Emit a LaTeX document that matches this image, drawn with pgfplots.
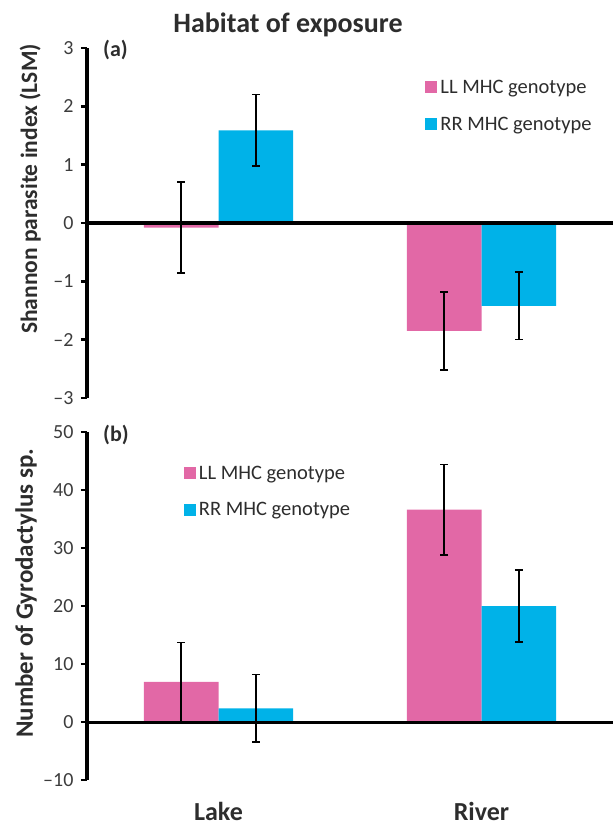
\documentclass[border=0pt]{standalone}
\usepackage{fontspec}
\setmainfont{Carlito}
\usepackage{pgfplots}
\pgfplotsset{compat=1.18}
\definecolor{llpink}{RGB}{226,104,166}
\definecolor{rrblue}{RGB}{0,178,232}
\definecolor{txt}{RGB}{45,45,45}
\definecolor{ticktxt}{RGB}{60,60,60}
\pgfplotsset{
  panel/.style={
    scale only axis, width=526pt, clip=false,
    xmin=0.5, xmax=2.5,
    axis y line*=left, axis x line*=bottom,
    x axis line style={draw=none},
    y axis line style={line width=4pt, black},
    xtick style={draw=none},
    ytick style={line width=2.5pt, black},
    tick align=outside, major tick length=6pt,
    /pgf/number format/assume math mode=true,
    yticklabel style={font=\fontsize{20}{24}\selectfont, text=ticktxt, xshift=-4pt},
    ybar, bar width=0.284,
    legend image code/.code={\fill[##1] (0pt,-6pt) rectangle (12pt,6pt);},
    legend style={draw=none, fill=none, font=\fontsize{20.5}{24}\selectfont, text=txt, row sep=16pt, inner sep=0pt, nodes={inner sep=3pt}},
    legend cell align=left,
    error bars/y dir=both, error bars/y explicit,
    error bars/error bar style={line width=1.5pt, black},
    error bars/error mark options={rotate=90, mark size=4pt, line width=1.5pt, black},
  }
}
\begin{document}
\begin{tikzpicture}
\useasboundingbox (0pt,0pt) rectangle (613pt,-828pt);
\node[font=\bfseries\fontsize{28}{32}\selectfont, text=txt] at (288pt,-25pt) {Habitat of exposure};
% panel (a)
\begin{axis}[panel, at={(87pt,-398pt)}, anchor=south west, height=350pt,
  ymin=-3, ymax=3, ytick={-3,-2,...,3},
  yticklabels={\textendash3,\textendash2,\textendash1,0,1,2,3},
  xtick=\empty,
  ylabel={Shannon parasite index (LSM)},
  ylabel style={font=\bfseries\fontsize{23.5}{27}\selectfont, text=txt, at={(axis description cs:-0.108,0.597)}, anchor=center},
  legend style={at={(axis description cs:0.643,0.918)}, anchor=north west}]
\addplot[fill=llpink, draw=none, bar shift=-0.142] coordinates {(1,-0.08) +- (0,0.78) (2,-1.85) +- (0,0.67)};
\addlegendentry{LL MHC genotype}
\addplot[fill=rrblue, draw=none, bar shift=0.142] coordinates {(1,1.59) +- (0,0.61) (2,-1.42) +- (0,0.58)};
\addlegendentry{RR MHC genotype}
\draw[line width=4pt, black] (axis cs:0.5,0) -- (axis cs:2.5,0);
\node[font=\bfseries\fontsize{22}{26}\selectfont, text=txt, anchor=west] at (axis description cs:0.024,0.993) {(a)};
\end{axis}
% panel (b)
\begin{axis}[panel, at={(87pt,-780pt)}, anchor=south west, height=348pt,
  ymin=-10, ymax=50, ytick={-10,0,...,50},
  yticklabels={\textendash10,0,10,20,30,40,50},
  xtick={1,2}, xticklabels={Lake,River},
  xticklabel style={font=\bfseries\fontsize{26}{30}\selectfont, text=txt, anchor=center, yshift=-25pt},
  ylabel={Number of Gyrodactylus sp.},
  ylabel style={font=\bfseries\fontsize{25}{29}\selectfont, text=txt, at={(axis description cs:-0.116,0.537)}, anchor=center},
  legend style={at={(axis description cs:0.184,0.912)}, anchor=north west}]
\addplot[fill=llpink, draw=none, bar shift=-0.142] coordinates {(1,6.9) +- (0,6.8) (2,36.6) +- (0,7.8)};
\addlegendentry{LL MHC genotype}
\addplot[fill=rrblue, draw=none, bar shift=0.142] coordinates {(1,2.35) +- (0,5.8) (2,20.0) +- (0,6.2)};
\addlegendentry{RR MHC genotype}
\draw[line width=3pt, black] (axis cs:0.5,0) -- (axis cs:2.5,0);
\node[font=\bfseries\fontsize{22}{26}\selectfont, text=txt, anchor=west] at (axis description cs:0.024,0.99) {(b)};
\end{axis}
\end{tikzpicture}
\end{document}
